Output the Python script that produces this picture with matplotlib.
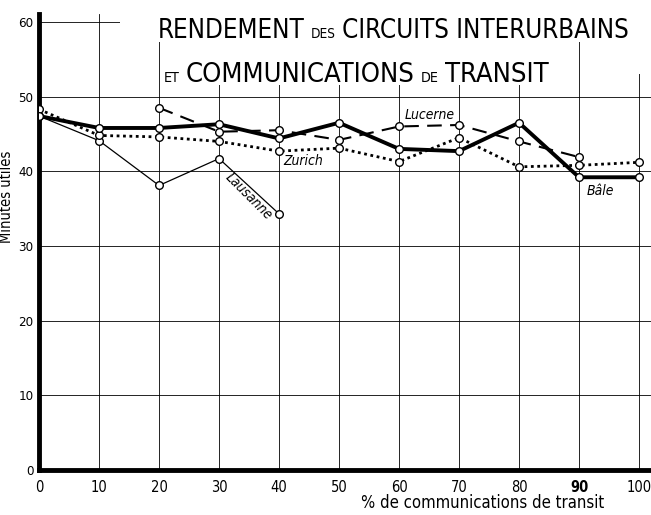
import matplotlib.pyplot as plt
from matplotlib.patches import Rectangle

# Valeurs
pct_transit = [0, 10, 20, 30, 40, 50, 60, 70, 80, 90, 100]
bale = [47.4, 45.8, 45.8, 46.3, 44.4, 46.5, 43.0, 42.7, 46.5, 39.2, 39.2]
zurich = [48.3, 44.8, 44.6, 44.0, 42.7, 43.1, 41.3, 44.5, 40.6, 40.8, 41.2]
pct_lucerne = [20, 30, 40, 50, 60, 70, 80, 90]
lucerne = [48.5, 45.3, 45.5, 44.2, 46.0, 46.2, 44.0, 41.9]
pct_lausanne = [0, 10, 20, 30, 40]
lausanne = [47.4, 44.1, 38.1, 41.7, 34.3]

x_ticks = [0, 10, 20, 30, 40, 50, 60, 70, 80, 90, 100]
y_ticks = [0, 10, 20, 30, 40, 50, 60]

plt.rcParams['font.family'] = ['DejaVu Sans']
plt.rcParams['font.stretch'] = 'condensed'

fig = plt.figure(figsize=(6.51, 5.15), dpi=100)
ax = fig.add_axes([0.06, 0.0874, 0.94, 0.8845])
ax.set_xlim(0, 102)
ax.set_ylim(0, 61)

# quadrillage
for xv in x_ticks[1:]:
    ax.axvline(xv, color='black', lw=0.6, zorder=1)
for yv in y_ticks[1:]:
    ax.axhline(yv, color='black', lw=0.6, zorder=1)

# cache blanc derriere le titre
for (x0, y0, w, h) in [(13.5, 57.3, 90, 5), (20.6, 51.6, 69.0, 5.8), (90.6, 53.0, 12, 4.4)]:
    ax.add_patch(Rectangle((x0, y0), w, h, facecolor='white', edgecolor='none', zorder=2))

mk = dict(marker='o', markersize=5.5, markerfacecolor='white', markeredgecolor='black',
          markeredgewidth=1.0, color='black')
ax.plot(pct_lausanne, lausanne, lw=0.9, zorder=4, **mk)
ax.plot(pct_transit, zurich, lw=2.0, linestyle=(0, (1, 1.3)), zorder=4, **mk)
ax.plot(pct_lucerne, lucerne, lw=1.5, linestyle=(0, (7, 4)), zorder=4, **mk)
ax.plot(pct_transit, bale, lw=2.8, zorder=5, **mk)

# noms des villes
ax.text(61, 47.0, 'Lucerne', style='italic', fontsize=10, zorder=6)
ax.text(40.7, 40.8, 'Zurich', style='italic', fontsize=10, zorder=6)
ax.text(35.0, 36.6, 'Lausanne', style='italic', fontsize=10, rotation=-45,
        ha='center', va='center', zorder=6)
ax.text(91.3, 36.8, 'Bâle', style='italic', fontsize=10, zorder=6)

# titre avec petites capitales, ajuste a la largeur voulue
fig.canvas.draw()
rend = fig.canvas.get_renderer()


def ligne(pieces, x_px, y_px, largeur):
    textes = []
    for txt, size in pieces:
        textes.append(fig.text(0, 1 - y_px / 515, txt, fontsize=size, va='baseline', zorder=7))
    for _ in range(3):
        total = sum(t.get_window_extent(renderer=rend).width for t in textes) + 6 * (len(textes) - 1)
        k = largeur / total
        for t in textes:
            t.set_fontsize(t.get_fontsize() * k)
    x = x_px
    for t in textes:
        t.set_x(x / 651)
        x += t.get_window_extent(renderer=rend).width + 6


ligne([('RENDEMENT', 21), ('DES', 11), ('CIRCUITS INTERURBAINS', 21)], 158, 38, 470)
ligne([('ET', 11), ('COMMUNICATIONS', 21), ('DE', 11), ('TRANSIT', 21)], 164, 82, 384)

for s in ['top', 'right']:
    ax.spines[s].set_visible(False)
ax.spines['left'].set_linewidth(3.5)
ax.spines['bottom'].set_linewidth(3.5)

ax.set_xticks(x_ticks)
ax.set_yticks(y_ticks)
ax.set_xticklabels([str(v) for v in x_ticks], fontsize=10.5)
ax.get_xticklabels()[9].set_fontweight('bold')
ax.set_yticklabels([str(v) for v in y_ticks], fontsize=9.5)
ax.tick_params(axis='x', length=0, pad=7)
ax.tick_params(axis='y', length=0, pad=4)

ax.set_ylabel('Minutes utiles', fontsize=10.5, labelpad=1)
ax.yaxis.set_label_coords(-0.041, 0.6)
ax.set_xlabel('% de communications de transit', fontsize=12)
ax.xaxis.set_label_coords(0.725, -0.052)

fig.savefig('out.png', dpi=100)
